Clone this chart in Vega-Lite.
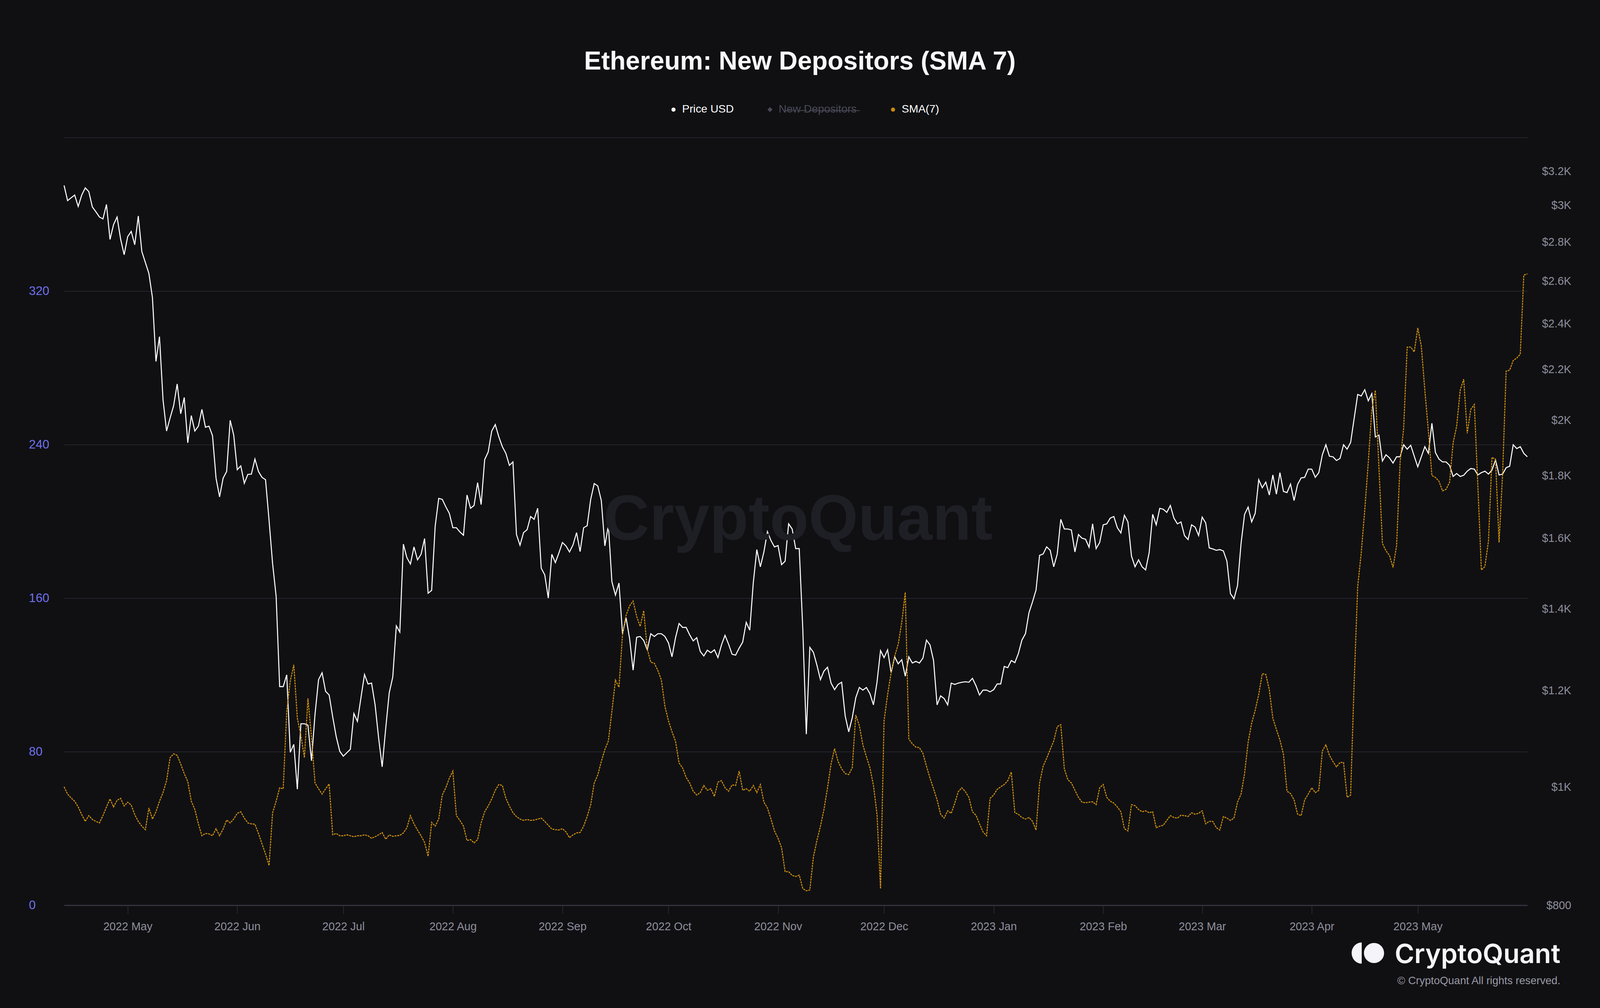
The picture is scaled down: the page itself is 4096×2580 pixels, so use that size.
{
"$schema": "https://vega.github.io/schema/vega-lite/v6.json",
"width": 3746,
"height": 1965,
"autosize": {"type": "none"},
"padding": {"left": 164, "top": 352, "right": 186, "bottom": 263},
"background": "#101013",
"config": {"view": {"stroke": null}, "font": "Liberation Sans"},
"title": {"text": "Ethereum: New Depositors (SMA 7)", "font": "Liberation Sans", "fontSize": 66, "fontWeight": "bold", "color": "#f8f8fc", "anchor": "middle", "frame": "bounds", "offset": 74},
"datasets": {"eth": [
{"d":"2022-04-13","p":3115,"s":61.7},{"d":"2022-04-14","p":3027,"s":57.9},{"d":"2022-04-15","p":3043,"s":55.9},{"d":"2022-04-16","p":3059,"s":54.2},{"d":"2022-04-17","p":2994,"s":51.2},{"d":"2022-04-18","p":3059,"s":47.2},{"d":"2022-04-19","p":3101,"s":43.7},{"d":"2022-04-20","p":3079,"s":46.7},{"d":"2022-04-21","p":2991,"s":44.7},{"d":"2022-04-22","p":2964,"s":43.7},{"d":"2022-04-23","p":2935,"s":42.9},{"d":"2022-04-24","p":2924,"s":46.7},{"d":"2022-04-25","p":3005,"s":51.2},{"d":"2022-04-26","p":2813,"s":55.4},{"d":"2022-04-27","p":2893,"s":51.2},{"d":"2022-04-28","p":2935,"s":54.7},{"d":"2022-04-29","p":2815,"s":55.7},{"d":"2022-04-30","p":2733,"s":51.7},
{"d":"2022-05-01","p":2828,"s":53.7},{"d":"2022-05-02","p":2856,"s":52.2},{"d":"2022-05-03","p":2785,"s":47.2},{"d":"2022-05-04","p":2940,"s":43.7},{"d":"2022-05-05","p":2750,"s":41.2},{"d":"2022-05-06","p":2693,"s":39.4},{"d":"2022-05-07","p":2638,"s":50.7},{"d":"2022-05-08","p":2521,"s":44.9},{"d":"2022-05-09","p":2234,"s":48.7},{"d":"2022-05-10","p":2341,"s":54.2},{"d":"2022-05-11","p":2078,"s":58.7},{"d":"2022-05-12","p":1959,"s":64.9},{"d":"2022-05-13","p":2008,"s":76.9},{"d":"2022-05-14","p":2055,"s":78.9},{"d":"2022-05-15","p":2141,"s":78.1},{"d":"2022-05-16","p":2024,"s":73.6},{"d":"2022-05-17","p":2087,"s":68.6},{"d":"2022-05-18","p":1916,"s":64.4},{"d":"2022-05-19","p":2017,"s":54.2},{"d":"2022-05-20","p":1959,"s":49.9},{"d":"2022-05-21","p":1977,"s":42.4},{"d":"2022-05-22","p":2041,"s":36.2},{"d":"2022-05-23","p":1973,"s":37.4},{"d":"2022-05-24","p":1977,"s":37.2},{"d":"2022-05-25","p":1942,"s":36.2},{"d":"2022-05-26","p":1792,"s":39.9},{"d":"2022-05-27","p":1730,"s":36.2},{"d":"2022-05-28","p":1792,"s":39.7},{"d":"2022-05-29","p":1815,"s":44.4},{"d":"2022-05-30","p":1999,"s":42.9},{"d":"2022-05-31","p":1944,"s":44.9},
{"d":"2022-06-01","p":1821,"s":47.9},{"d":"2022-06-02","p":1834,"s":48.7},{"d":"2022-06-03","p":1775,"s":45.4},{"d":"2022-06-04","p":1805,"s":42.9},{"d":"2022-06-05","p":1806,"s":42.4},{"d":"2022-06-06","p":1858,"s":42.2},{"d":"2022-06-07","p":1815,"s":37.4},{"d":"2022-06-08","p":1795,"s":32.0},{"d":"2022-06-09","p":1787,"s":26.7},{"d":"2022-06-10","p":1655,"s":20.7},{"d":"2022-06-11","p":1525,"s":48.2},{"d":"2022-06-12","p":1434,"s":54.2},{"d":"2022-06-13","p":1209,"s":61.2},{"d":"2022-06-14","p":1209,"s":60.7},{"d":"2022-06-15","p":1236,"s":101.1},{"d":"2022-06-16","p":1068,"s":116.8},{"d":"2022-06-17","p":1084,"s":125.3},{"d":"2022-06-18","p":996,"s":97.4},{"d":"2022-06-19","p":1127,"s":88.6},{"d":"2022-06-20","p":1127,"s":76.9},{"d":"2022-06-21","p":1124,"s":107.8},{"d":"2022-06-22","p":1051,"s":87.4},{"d":"2022-06-23","p":1147,"s":63.7},{"d":"2022-06-24","p":1225,"s":60.7},{"d":"2022-06-25","p":1241,"s":57.9},{"d":"2022-06-26","p":1198,"s":60.7},{"d":"2022-06-27","p":1190,"s":63.2},{"d":"2022-06-28","p":1142,"s":36.7},{"d":"2022-06-29","p":1100,"s":37.4},{"d":"2022-06-30","p":1070,"s":36.2},
{"d":"2022-07-01","p":1060,"s":36.2},{"d":"2022-07-02","p":1067,"s":36.7},{"d":"2022-07-03","p":1074,"s":36.2},{"d":"2022-07-04","p":1149,"s":35.7},{"d":"2022-07-05","p":1132,"s":36.2},{"d":"2022-07-06","p":1184,"s":36.2},{"d":"2022-07-07","p":1237,"s":36.7},{"d":"2022-07-08","p":1215,"s":36.2},{"d":"2022-07-09","p":1217,"s":34.9},{"d":"2022-07-10","p":1168,"s":35.7},{"d":"2022-07-11","p":1097,"s":36.7},{"d":"2022-07-12","p":1039,"s":37.9},{"d":"2022-07-13","p":1117,"s":34.4},{"d":"2022-07-14","p":1195,"s":36.7},{"d":"2022-07-15","p":1231,"s":35.9},{"d":"2022-07-16","p":1356,"s":36.2},{"d":"2022-07-17","p":1340,"s":36.4},{"d":"2022-07-18","p":1582,"s":37.7},{"d":"2022-07-19","p":1542,"s":40.4},{"d":"2022-07-20","p":1524,"s":46.7},{"d":"2022-07-21","p":1574,"s":42.4},{"d":"2022-07-22","p":1536,"s":39.2},{"d":"2022-07-23","p":1552,"s":36.2},{"d":"2022-07-24","p":1599,"s":32.7},{"d":"2022-07-25","p":1442,"s":25.5},{"d":"2022-07-26","p":1450,"s":43.2},{"d":"2022-07-27","p":1637,"s":41.2},{"d":"2022-07-28","p":1725,"s":44.9},{"d":"2022-07-29","p":1722,"s":57.4},{"d":"2022-07-30","p":1698,"s":61.2},{"d":"2022-07-31","p":1677,"s":66.2},
{"d":"2022-08-01","p":1632,"s":69.9},{"d":"2022-08-02","p":1632,"s":46.7},{"d":"2022-08-03","p":1619,"s":44.2},{"d":"2022-08-04","p":1609,"s":41.2},{"d":"2022-08-05","p":1736,"s":33.7},{"d":"2022-08-06","p":1693,"s":34.2},{"d":"2022-08-07","p":1702,"s":32.5},{"d":"2022-08-08","p":1777,"s":34.2},{"d":"2022-08-09","p":1705,"s":42.9},{"d":"2022-08-10","p":1856,"s":48.7},{"d":"2022-08-11","p":1883,"s":51.7},{"d":"2022-08-12","p":1959,"s":55.4},{"d":"2022-08-13","p":1983,"s":59.9},{"d":"2022-08-14","p":1938,"s":62.9},{"d":"2022-08-15","p":1902,"s":62.4},{"d":"2022-08-16","p":1878,"s":55.7},{"d":"2022-08-17","p":1836,"s":51.7},{"d":"2022-08-18","p":1848,"s":48.2},{"d":"2022-08-19","p":1611,"s":46.2},{"d":"2022-08-20","p":1579,"s":44.9},{"d":"2022-08-21","p":1617,"s":44.2},{"d":"2022-08-22","p":1626,"s":44.7},{"d":"2022-08-23","p":1667,"s":44.2},{"d":"2022-08-24","p":1658,"s":44.4},{"d":"2022-08-25","p":1693,"s":44.9},{"d":"2022-08-26","p":1512,"s":45.4},{"d":"2022-08-27","p":1493,"s":43.7},{"d":"2022-08-28","p":1429,"s":41.7},{"d":"2022-08-29","p":1552,"s":39.7},{"d":"2022-08-30","p":1528,"s":39.4},{"d":"2022-08-31","p":1556,"s":39.2},
{"d":"2022-09-01","p":1587,"s":39.9},{"d":"2022-09-02","p":1577,"s":38.2},{"d":"2022-09-03","p":1559,"s":35.2},{"d":"2022-09-04","p":1580,"s":36.7},{"d":"2022-09-05","p":1617,"s":37.7},{"d":"2022-09-06","p":1560,"s":37.9},{"d":"2022-09-07","p":1632,"s":41.2},{"d":"2022-09-08","p":1638,"s":46.2},{"d":"2022-09-09","p":1722,"s":52.4},{"d":"2022-09-10","p":1774,"s":63.7},{"d":"2022-09-11","p":1766,"s":67.9},{"d":"2022-09-12","p":1718,"s":74.9},{"d":"2022-09-13","p":1577,"s":81.1},{"d":"2022-09-14","p":1640,"s":85.6},{"d":"2022-09-15","p":1474,"s":101.1},{"d":"2022-09-16","p":1437,"s":117.3},{"d":"2022-09-17","p":1470,"s":113.6},{"d":"2022-09-18","p":1336,"s":141.0},{"d":"2022-09-19","p":1377,"s":151.0},{"d":"2022-09-20","p":1324,"s":156.0},{"d":"2022-09-21","p":1247,"s":158.5},{"d":"2022-09-22","p":1327,"s":150.5},{"d":"2022-09-23","p":1329,"s":145.3},{"d":"2022-09-24","p":1319,"s":153.5},{"d":"2022-09-25","p":1296,"s":133.5},{"d":"2022-09-26","p":1336,"s":126.6},{"d":"2022-09-27","p":1329,"s":126.1},{"d":"2022-09-28","p":1336,"s":122.3},{"d":"2022-09-29","p":1336,"s":117.3},{"d":"2022-09-30","p":1329,"s":103.6},
{"d":"2022-10-01","p":1313,"s":96.1},{"d":"2022-10-02","p":1279,"s":90.4},{"d":"2022-10-03","p":1326,"s":85.4},{"d":"2022-10-04","p":1362,"s":74.1},{"d":"2022-10-05","p":1352,"s":71.6},{"d":"2022-10-06","p":1352,"s":66.6},{"d":"2022-10-07","p":1333,"s":63.7},{"d":"2022-10-08","p":1318,"s":59.4},{"d":"2022-10-09","p":1326,"s":57.4},{"d":"2022-10-10","p":1292,"s":58.7},{"d":"2022-10-11","p":1281,"s":62.4},{"d":"2022-10-12","p":1295,"s":59.9},{"d":"2022-10-13","p":1289,"s":60.7},{"d":"2022-10-14","p":1296,"s":56.7},{"d":"2022-10-15","p":1277,"s":64.2},{"d":"2022-10-16","p":1308,"s":64.9},{"d":"2022-10-17","p":1332,"s":61.2},{"d":"2022-10-18","p":1310,"s":59.4},{"d":"2022-10-19","p":1285,"s":62.7},{"d":"2022-10-20","p":1283,"s":62.4},{"d":"2022-10-21","p":1300,"s":69.9},{"d":"2022-10-22","p":1315,"s":59.9},{"d":"2022-10-23","p":1365,"s":60.7},{"d":"2022-10-24","p":1345,"s":59.4},{"d":"2022-10-25","p":1471,"s":62.4},{"d":"2022-10-26","p":1566,"s":58.7},{"d":"2022-10-27","p":1516,"s":62.9},{"d":"2022-10-28","p":1559,"s":53.7},{"d":"2022-10-29","p":1620,"s":50.7},{"d":"2022-10-30","p":1593,"s":44.9},{"d":"2022-10-31","p":1574,"s":38.7},
{"d":"2022-11-01","p":1578,"s":34.9},{"d":"2022-11-02","p":1522,"s":30.0},{"d":"2022-11-03","p":1532,"s":17.5},{"d":"2022-11-04","p":1644,"s":17.5},{"d":"2022-11-05","p":1628,"s":15.5},{"d":"2022-11-06","p":1569,"s":15.0},{"d":"2022-11-07","p":1569,"s":15.7},{"d":"2022-11-08","p":1349,"s":8.7},{"d":"2022-11-09","p":1105,"s":7.5},{"d":"2022-11-10","p":1302,"s":8.0},{"d":"2022-11-11","p":1290,"s":25.0},{"d":"2022-11-12","p":1259,"s":33.7},{"d":"2022-11-13","p":1225,"s":41.2},{"d":"2022-11-14","p":1245,"s":49.9},{"d":"2022-11-15","p":1254,"s":61.2},{"d":"2022-11-16","p":1217,"s":73.6},{"d":"2022-11-17","p":1202,"s":81.6},{"d":"2022-11-18","p":1214,"s":74.9},{"d":"2022-11-19","p":1219,"s":71.1},{"d":"2022-11-20","p":1144,"s":68.6},{"d":"2022-11-21","p":1110,"s":68.1},{"d":"2022-11-22","p":1140,"s":71.6},{"d":"2022-11-23","p":1184,"s":99.1},{"d":"2022-11-24","p":1207,"s":93.6},{"d":"2022-11-25","p":1201,"s":83.6},{"d":"2022-11-26","p":1207,"s":77.4},{"d":"2022-11-27","p":1193,"s":71.6},{"d":"2022-11-28","p":1168,"s":62.4},{"d":"2022-11-29","p":1219,"s":47.4},{"d":"2022-11-30","p":1294,"s":8.7},
{"d":"2022-12-01","p":1277,"s":96.1},{"d":"2022-12-02","p":1296,"s":109.8},{"d":"2022-12-03","p":1241,"s":121.1},{"d":"2022-12-04","p":1279,"s":129.8},{"d":"2022-12-05","p":1262,"s":136.0},{"d":"2022-12-06","p":1272,"s":147.3},{"d":"2022-12-07","p":1233,"s":163.0},{"d":"2022-12-08","p":1279,"s":86.6},{"d":"2022-12-09","p":1264,"s":84.1},{"d":"2022-12-10","p":1268,"s":82.4},{"d":"2022-12-11","p":1264,"s":82.1},{"d":"2022-12-12","p":1276,"s":79.1},{"d":"2022-12-13","p":1320,"s":72.4},{"d":"2022-12-14","p":1308,"s":66.2},{"d":"2022-12-15","p":1270,"s":60.7},{"d":"2022-12-16","p":1168,"s":54.9},{"d":"2022-12-17","p":1188,"s":47.4},{"d":"2022-12-18","p":1182,"s":45.4},{"d":"2022-12-19","p":1168,"s":49.2},{"d":"2022-12-20","p":1217,"s":47.9},{"d":"2022-12-21","p":1214,"s":53.2},{"d":"2022-12-22","p":1217,"s":59.2},{"d":"2022-12-23","p":1219,"s":61.2},{"d":"2022-12-24","p":1220,"s":59.2},{"d":"2022-12-25","p":1219,"s":56.2},{"d":"2022-12-26","p":1228,"s":48.7},{"d":"2022-12-27","p":1211,"s":46.9},{"d":"2022-12-28","p":1190,"s":42.4},{"d":"2022-12-29","p":1201,"s":38.2},{"d":"2022-12-30","p":1201,"s":36.2},{"d":"2022-12-31","p":1197,"s":55.7},
{"d":"2023-01-01","p":1202,"s":57.4},{"d":"2023-01-02","p":1215,"s":60.4},{"d":"2023-01-03","p":1215,"s":61.7},{"d":"2023-01-04","p":1256,"s":62.9},{"d":"2023-01-05","p":1253,"s":64.9},{"d":"2023-01-06","p":1270,"s":69.4},{"d":"2023-01-07","p":1265,"s":48.2},{"d":"2023-01-08","p":1287,"s":47.4},{"d":"2023-01-09","p":1320,"s":45.7},{"d":"2023-01-10","p":1336,"s":44.9},{"d":"2023-01-11","p":1390,"s":45.7},{"d":"2023-01-12","p":1419,"s":43.7},{"d":"2023-01-13","p":1451,"s":39.2},{"d":"2023-01-14","p":1549,"s":63.7},{"d":"2023-01-15","p":1553,"s":72.4},{"d":"2023-01-16","p":1574,"s":76.6},{"d":"2023-01-17","p":1564,"s":81.1},{"d":"2023-01-18","p":1516,"s":85.6},{"d":"2023-01-19","p":1553,"s":93.1},{"d":"2023-01-20","p":1658,"s":94.1},{"d":"2023-01-21","p":1628,"s":71.1},{"d":"2023-01-22","p":1628,"s":65.4},{"d":"2023-01-23","p":1625,"s":63.7},{"d":"2023-01-24","p":1559,"s":59.9},{"d":"2023-01-25","p":1611,"s":56.2},{"d":"2023-01-26","p":1600,"s":53.7},{"d":"2023-01-27","p":1597,"s":53.4},{"d":"2023-01-28","p":1573,"s":53.7},{"d":"2023-01-29","p":1644,"s":53.9},{"d":"2023-01-30","p":1569,"s":52.4},{"d":"2023-01-31","p":1587,"s":61.2},
{"d":"2023-02-01","p":1641,"s":62.9},{"d":"2023-02-02","p":1644,"s":56.2},{"d":"2023-02-03","p":1662,"s":54.2},{"d":"2023-02-04","p":1667,"s":53.2},{"d":"2023-02-05","p":1632,"s":51.2},{"d":"2023-02-06","p":1616,"s":48.7},{"d":"2023-02-07","p":1671,"s":39.9},{"d":"2023-02-08","p":1650,"s":38.7},{"d":"2023-02-09","p":1547,"s":52.4},{"d":"2023-02-10","p":1516,"s":51.9},{"d":"2023-02-11","p":1536,"s":49.9},{"d":"2023-02-12","p":1516,"s":48.7},{"d":"2023-02-13","p":1507,"s":49.2},{"d":"2023-02-14","p":1557,"s":48.2},{"d":"2023-02-15","p":1674,"s":48.7},{"d":"2023-02-16","p":1641,"s":40.4},{"d":"2023-02-17","p":1693,"s":41.2},{"d":"2023-02-18","p":1690,"s":41.7},{"d":"2023-02-19","p":1680,"s":44.2},{"d":"2023-02-20","p":1702,"s":46.7},{"d":"2023-02-21","p":1662,"s":45.7},{"d":"2023-02-22","p":1644,"s":45.4},{"d":"2023-02-23","p":1650,"s":46.9},{"d":"2023-02-24","p":1608,"s":46.7},{"d":"2023-02-25","p":1596,"s":46.2},{"d":"2023-02-26","p":1641,"s":48.2},{"d":"2023-02-27","p":1634,"s":47.4},{"d":"2023-02-28","p":1608,"s":47.9},
{"d":"2023-03-01","p":1665,"s":49.2},{"d":"2023-03-02","p":1647,"s":42.4},{"d":"2023-03-03","p":1571,"s":43.7},{"d":"2023-03-04","p":1568,"s":43.7},{"d":"2023-03-05","p":1564,"s":40.4},{"d":"2023-03-06","p":1566,"s":39.2},{"d":"2023-03-07","p":1562,"s":46.2},{"d":"2023-03-08","p":1532,"s":45.4},{"d":"2023-03-09","p":1441,"s":44.2},{"d":"2023-03-10","p":1427,"s":45.4},{"d":"2023-03-11","p":1463,"s":53.7},{"d":"2023-03-12","p":1584,"s":57.9},{"d":"2023-03-13","p":1674,"s":68.6},{"d":"2023-03-14","p":1697,"s":84.9},{"d":"2023-03-15","p":1650,"s":94.9},{"d":"2023-03-16","p":1677,"s":101.6},{"d":"2023-03-17","p":1787,"s":109.8},{"d":"2023-03-18","p":1760,"s":120.6},{"d":"2023-03-19","p":1779,"s":120.3},{"d":"2023-03-20","p":1736,"s":112.3},{"d":"2023-03-21","p":1803,"s":97.4},{"d":"2023-03-22","p":1739,"s":91.6},{"d":"2023-03-23","p":1811,"s":86.1},{"d":"2023-03-24","p":1748,"s":78.6},{"d":"2023-03-25","p":1744,"s":59.4},{"d":"2023-03-26","p":1772,"s":58.2},{"d":"2023-03-27","p":1718,"s":54.9},{"d":"2023-03-28","p":1771,"s":47.4},{"d":"2023-03-29","p":1793,"s":46.7},{"d":"2023-03-30","p":1795,"s":54.9},{"d":"2023-03-31","p":1823,"s":57.9},
{"d":"2023-04-01","p":1823,"s":61.2},{"d":"2023-04-02","p":1795,"s":58.7},{"d":"2023-04-03","p":1811,"s":59.9},{"d":"2023-04-04","p":1873,"s":80.4},{"d":"2023-04-05","p":1909,"s":83.6},{"d":"2023-04-06","p":1868,"s":78.1},{"d":"2023-04-07","p":1866,"s":74.9},{"d":"2023-04-08","p":1853,"s":72.1},{"d":"2023-04-09","p":1860,"s":74.4},{"d":"2023-04-10","p":1909,"s":74.4},{"d":"2023-04-11","p":1893,"s":56.2},{"d":"2023-04-12","p":1917,"s":57.4},{"d":"2023-04-13","p":2006,"s":116.1},{"d":"2023-04-14","p":2099,"s":166.0},{"d":"2023-04-15","p":2093,"s":183.5},{"d":"2023-04-16","p":2118,"s":205.9},{"d":"2023-04-17","p":2074,"s":230.9},{"d":"2023-04-18","p":2102,"s":258.4},{"d":"2023-04-19","p":1937,"s":268.3},{"d":"2023-04-20","p":1944,"s":228.4},{"d":"2023-04-21","p":1851,"s":188.5},{"d":"2023-04-22","p":1873,"s":184.7},{"d":"2023-04-23","p":1862,"s":182.2},{"d":"2023-04-24","p":1844,"s":176.0},{"d":"2023-04-25","p":1866,"s":187.2},{"d":"2023-04-26","p":1866,"s":230.9},{"d":"2023-04-27","p":1909,"s":248.4},{"d":"2023-04-28","p":1893,"s":290.8},{"d":"2023-04-29","p":1907,"s":290.8},{"d":"2023-04-30","p":1868,"s":288.3},
{"d":"2023-05-01","p":1831,"s":300.8},{"d":"2023-05-02","p":1866,"s":291.3},{"d":"2023-05-03","p":1902,"s":268.3},{"d":"2023-05-04","p":1878,"s":247.1},{"d":"2023-05-05","p":1988,"s":223.9},{"d":"2023-05-06","p":1881,"s":222.9},{"d":"2023-05-07","p":1858,"s":220.9},{"d":"2023-05-08","p":1848,"s":215.9},{"d":"2023-05-09","p":1848,"s":216.7},{"d":"2023-05-10","p":1836,"s":220.4},{"d":"2023-05-11","p":1798,"s":240.9},{"d":"2023-05-12","p":1808,"s":249.6},{"d":"2023-05-13","p":1798,"s":268.3},{"d":"2023-05-14","p":1802,"s":274.1},{"d":"2023-05-15","p":1816,"s":245.9},{"d":"2023-05-16","p":1825,"s":258.4},{"d":"2023-05-17","p":1823,"s":260.9},{"d":"2023-05-18","p":1803,"s":218.4},{"d":"2023-05-19","p":1811,"s":174.7},{"d":"2023-05-20","p":1816,"s":176.5},{"d":"2023-05-21","p":1806,"s":189.7},{"d":"2023-05-22","p":1820,"s":233.4},{"d":"2023-05-23","p":1855,"s":232.2},{"d":"2023-05-24","p":1803,"s":189.0},{"d":"2023-05-25","p":1806,"s":224.7},{"d":"2023-05-26","p":1828,"s":278.3},{"d":"2023-05-27","p":1833,"s":278.8},{"d":"2023-05-28","p":1909,"s":283.8},{"d":"2023-05-29","p":1895,"s":285.1},{"d":"2023-05-30","p":1902,"s":287.1},{"d":"2023-05-31","p":1878,"s":328.3},{"d":"2023-06-01","p":1866,"s":329.0}
]},
"layer": [
  {
    "data": {"name": "eth"},
    "mark": {"type": "line", "strokeWidth": 2.6, "interpolate": "linear"},
    "encoding": {
      "x": {"field": "d", "type": "temporal",
        "scale": {"type": "utc", "domain": [1649808000000, 1685577600000]},
        "axis": {"title": null, "format": "%Y %b", "grid": false,
          "values": [1651363200000, 1654041600000, 1656633600000, 1659312000000, 1661990400000, 1664582400000, 1667260800000, 1669852800000, 1672531200000, 1675209600000, 1677628800000, 1680307200000, 1682899200000],
          "domain": true, "domainColor": "#34333f", "domainWidth": 3,
          "ticks": true, "tickColor": "#34333f", "tickWidth": 1.3, "tickSize": 21,
          "labelPadding": 19, "labelFont": "Liberation Sans", "labelFontSize": 28.7, "labelColor": "#8f8f9b", "labelFlush": false, "labelOverlap": false}},
      "y": {"field": "p", "type": "quantitative",
        "scale": {"type": "log", "domain": [800, 3410], "nice": false, "zero": false},
        "axis": {"orient": "right", "title": null, "grid": false, "domain": false, "ticks": false, "tickSize": 0,
          "values": [800, 1000, 1200, 1400, 1600, 1800, 2000, 2200, 2400, 2600, 2800, 3000, 3200],
          "labelExpr": "datum.value >= 1000 ? '$' + format(datum.value / 1000, '~g') + 'K' : '$' + format(datum.value, 'd')",
          "labelAlign": "right", "labelBaseline": "middle", "labelPadding": 112, "labelFont": "Liberation Sans", "labelFontSize": 28.7, "labelColor": "#8f8f9b", "labelOverlap": false}},
      "color": {"datum": "Price USD",
        "scale": {"domain": ["Price USD", "New Depositors", "SMA(7)"], "range": ["#ffffff", "#4a4956", "#d0900b"]},
        "legend": {"orient": "none", "legendX": 1546, "legendY": -86, "direction": "horizontal", "title": null, "padding": 0,
          "labelFont": "Liberation Sans", "labelFontSize": 28.3, "labelColor": "#ffffff", "labelLimit": 600, "columnPadding": 78, "labelOffset": 8,
          "symbolType": "circle", "symbolSize": 110, "symbolStrokeWidth": 0,
          "labelExpr": "datum.label === 'New Depositors' ? 'N\u0336e\u0336w\u0336 \u0336D\u0336e\u0336p\u0336o\u0336s\u0336i\u0336t\u0336o\u0336r\u0336s\u0336' : datum.label",
          "encode": {
            "symbols": {"update": {
              "fill": {"signal": "datum.value === 'Price USD' ? '#ffffff' : datum.value === 'SMA(7)' ? '#c88a0b' : '#4a4956'"},
              "stroke": {"value": "transparent"},
              "strokeWidth": {"value": 0},
              "opacity": {"value": 1},
              "shape": {"signal": "datum.value === 'New Depositors' ? 'diamond' : 'circle'"},
              "size": {"signal": "datum.value === 'New Depositors' ? 170 : 110"}}},
            "labels": {"update": {"fill": {"signal": "datum.value === 'New Depositors' ? '#4a4956' : '#ffffff'"}}}
          }}}
    }
  },
  {
    "layer": [
      {
        "data": {"values": [{}]},
        "mark": {"type": "text", "font": "Liberation Sans", "fontSize": 163, "fontWeight": "bold", "color": "#1e1e25", "align": "center", "baseline": "alphabetic"},
        "encoding": {
          "x": {"datum": {"year": 2022, "month": 11, "date": 6, "hours": 15, "minutes": 22, "utc": true}, "type": "temporal"},
          "y": {"datum": 190.5, "type": "quantitative"},
          "text": {"value": "CryptoQuant"}
        }
      },
      {
        "data": {"name": "eth"},
        "mark": {"type": "line", "strokeWidth": 2.6, "strokeDash": [5, 2], "interpolate": "linear"},
        "encoding": {
          "x": {"field": "d", "type": "temporal",
            "scale": {"type": "utc", "domain": [1649808000000, 1685577600000]},
            "axis": {"title": null, "format": "%Y %b", "grid": false,
              "values": [1651363200000, 1654041600000, 1656633600000, 1659312000000, 1661990400000, 1664582400000, 1667260800000, 1669852800000, 1672531200000, 1675209600000, 1677628800000, 1680307200000, 1682899200000],
              "domain": true, "domainColor": "#34333f", "domainWidth": 3,
              "ticks": true, "tickColor": "#34333f", "tickWidth": 1.3, "tickSize": 21,
              "labelPadding": 19, "labelFont": "Liberation Sans", "labelFontSize": 28.7, "labelColor": "#8f8f9b", "labelFlush": false, "labelOverlap": false}},
          "y": {"field": "s", "type": "quantitative",
            "scale": {"domain": [0, 400], "nice": false, "zero": true},
            "axis": {"orient": "left", "title": null, "values": [0, 80, 160, 240, 320, 400],
              "grid": true, "gridColor": "#2c2b36", "gridWidth": 1.6, "domain": false, "ticks": false, "tickSize": 0,
              "labelExpr": "datum.value === 400 ? '' : datum.label",
              "labelAlign": "left", "labelBaseline": "middle", "labelPadding": 90.5, "labelFont": "Liberation Sans", "labelFontSize": 31.3, "labelColor": "#7171ec", "labelOverlap": false}},
          "color": {"datum": "SMA(7)"}
        }
      },
      {
        "data": {"values": [{}]},
        "mark": {"type": "point", "shape": "M-0.38,-0.655 A0.62,0.655 0 0 0 -0.38,0.655 Z M0.38,-0.62 A0.62,0.62 0 1 1 0.38,0.62 A0.62,0.62 0 1 1 0.38,-0.62 Z", "filled": true, "color": "#f4f4fa", "size": 6889, "strokeWidth": 0, "opacity": 1},
        "encoding": {
          "x": {"datum": {"year": 2023, "month": 4, "date": 16, "hours": 21, "minutes": 7, "utc": true}, "type": "temporal"},
          "y": {"datum": -24.9, "type": "quantitative"}
        }
      },
      {
        "data": {"values": [{}]},
        "mark": {"type": "text", "font": "Inter", "fontSize": 68, "fontWeight": 600, "color": "#f4f4fa", "align": "right", "baseline": "alphabetic"},
        "encoding": {
          "x": {"datum": {"year": 2023, "month": 6, "date": 10, "hours": 8, "minutes": 38, "utc": true}, "type": "temporal"},
          "y": {"datum": -30.06, "type": "quantitative"},
          "text": {"value": "CryptoQuant"}
        }
      },
      {
        "data": {"values": [{}]},
        "mark": {"type": "text", "font": "Liberation Sans", "fontSize": 27.5, "color": "#9a9aa5", "align": "right", "baseline": "alphabetic"},
        "encoding": {
          "x": {"datum": {"year": 2023, "month": 6, "date": 10, "hours": 8, "minutes": 38, "utc": true}, "type": "temporal"},
          "y": {"datum": -41.06, "type": "quantitative"},
          "text": {"value": "© CryptoQuant All rights reserved."}
        }
      }
    ]
  }
],
"resolve": {"scale": {"y": "independent"}, "axis": {"y": "independent"}}
}
